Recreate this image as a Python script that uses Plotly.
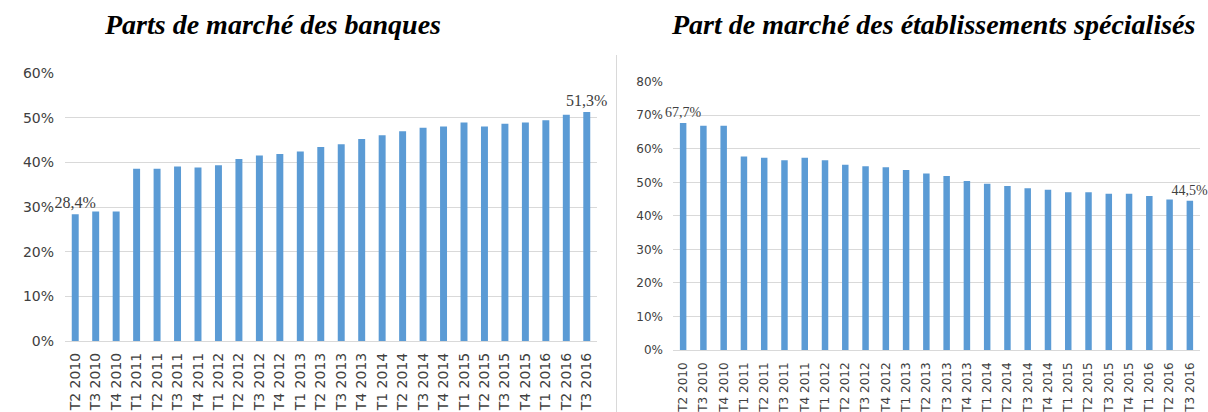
import plotly.graph_objects as go

# ---------------- data ----------------
quarters = ["T2 2010", "T3 2010", "T4 2010",
            "T1 2011", "T2 2011", "T3 2011", "T4 2011",
            "T1 2012", "T2 2012", "T3 2012", "T4 2012",
            "T1 2013", "T2 2013", "T3 2013", "T4 2013",
            "T1 2014", "T2 2014", "T3 2014", "T4 2014",
            "T1 2015", "T2 2015", "T3 2015", "T4 2015",
            "T1 2016", "T2 2016", "T3 2016"]

banques = [28.4, 29.0, 29.0,
           38.6, 38.6, 39.1, 38.9,
           39.4, 40.8, 41.6, 41.9,
           42.5, 43.5, 44.1, 45.3,
           46.1, 47.0, 47.8, 48.1,
           49.0, 48.1, 48.7, 49.0,
           49.5, 50.7, 51.3]

specialises = [67.7, 66.9, 66.9,
               57.7, 57.3, 56.6, 57.3,
               56.6, 55.2, 54.8, 54.5,
               53.7, 52.6, 51.9, 50.4,
               49.6, 48.9, 48.2, 47.8,
               47.0, 47.0, 46.6, 46.6,
               45.9, 44.9, 44.5]

title_left = "Parts de marché des banques"
title_right = "Part de marché des établissements spécialisés"

W, H = 1208, 412
BAR = "#5B9BD5"
GRID = "#D9D9D9"
TXT = "#404040"


def fmt(v):
    return f"{v:.1f}".replace(".", ",") + "%"


def end_labels(vals):
    return [fmt(v) if i in (0, len(vals) - 1) else "" for i, v in enumerate(vals)]


def px_x(p):
    return p / W


def px_y(p):
    return 1 - p / H


fig = go.Figure()

fig.add_trace(go.Bar(
    x=quarters, y=banques, xaxis="x", yaxis="y",
    marker=dict(color=BAR, line=dict(width=0)), width=0.34,
    text=end_labels(banques), textposition="outside", cliponaxis=False,
    constraintext="none",
    textfont=dict(family="Liberation Serif", size=16, color=TXT),
    hoverinfo="x+y", showlegend=False))

fig.add_trace(go.Bar(
    x=quarters, y=specialises, xaxis="x2", yaxis="y2",
    marker=dict(color=BAR, line=dict(width=0)), width=0.32,
    text=end_labels(specialises), textposition="outside", cliponaxis=False,
    constraintext="none",
    textfont=dict(family="Liberation Serif", size=14, color=TXT),
    hoverinfo="x+y", showlegend=False))

tick_font_l = dict(family="DejaVu Sans", size=14, color=TXT)
tick_font_r = dict(family="DejaVu Sans", size=12, color=TXT)

fig.update_layout(
    width=W, height=H,
    margin=dict(l=0, r=0, t=0, b=0, autoexpand=False),
    paper_bgcolor="white", plot_bgcolor="white",
    xaxis=dict(domain=[px_x(65), px_x(597)], anchor="y", automargin=False,
               tickangle=-90, tickfont=tick_font_l, showgrid=False,
               showline=False, ticks="", ticklabelstandoff=8),
    yaxis=dict(domain=[px_y(341), px_y(73.3)], anchor="x", automargin=False,
               range=[0, 60], dtick=10, ticksuffix="%",
               gridcolor=GRID, gridwidth=1, zeroline=True,
               zerolinecolor=GRID, zerolinewidth=1,
               tickfont=tick_font_l, showline=False, ticks="",
               ticklabelstandoff=10),
    xaxis2=dict(domain=[px_x(673), px_x(1200)], anchor="y2", automargin=False,
                tickangle=-90, tickfont=tick_font_r, showgrid=False,
                showline=False, ticks="", ticklabelstandoff=9),
    yaxis2=dict(domain=[px_y(350), px_y(81.7)], anchor="x2", automargin=False,
                range=[0, 80], dtick=10, ticksuffix="%",
                gridcolor=GRID, gridwidth=1, zeroline=True,
                zerolinecolor=GRID, zerolinewidth=1,
                tickfont=tick_font_r, showline=False, ticks="",
                ticklabelstandoff=9),
)

title_font = dict(family="Liberation Serif", size=28, color="black")
fig.add_annotation(text=f"<b><i>{title_left}</i></b>", xref="paper", yref="paper",
                   x=px_x(272), y=px_y(25), xanchor="center", yanchor="middle",
                   showarrow=False, font=title_font)
fig.add_annotation(text=f"<b><i>{title_right}</i></b>", xref="paper", yref="paper",
                   x=px_x(933), y=px_y(25), xanchor="center", yanchor="middle",
                   showarrow=False, font=title_font)

# separator between the two panels
fig.add_shape(type="line", xref="paper", yref="paper",
              x0=px_x(616.5), x1=px_x(616.5), y0=0, y1=px_y(55),
              line=dict(color=GRID, width=1))

fig.write_html("out.html",
               config={"displayModeBar": False},
               post_script="document.body.style.margin='0';"
                           "document.body.style.overflow='hidden';")
